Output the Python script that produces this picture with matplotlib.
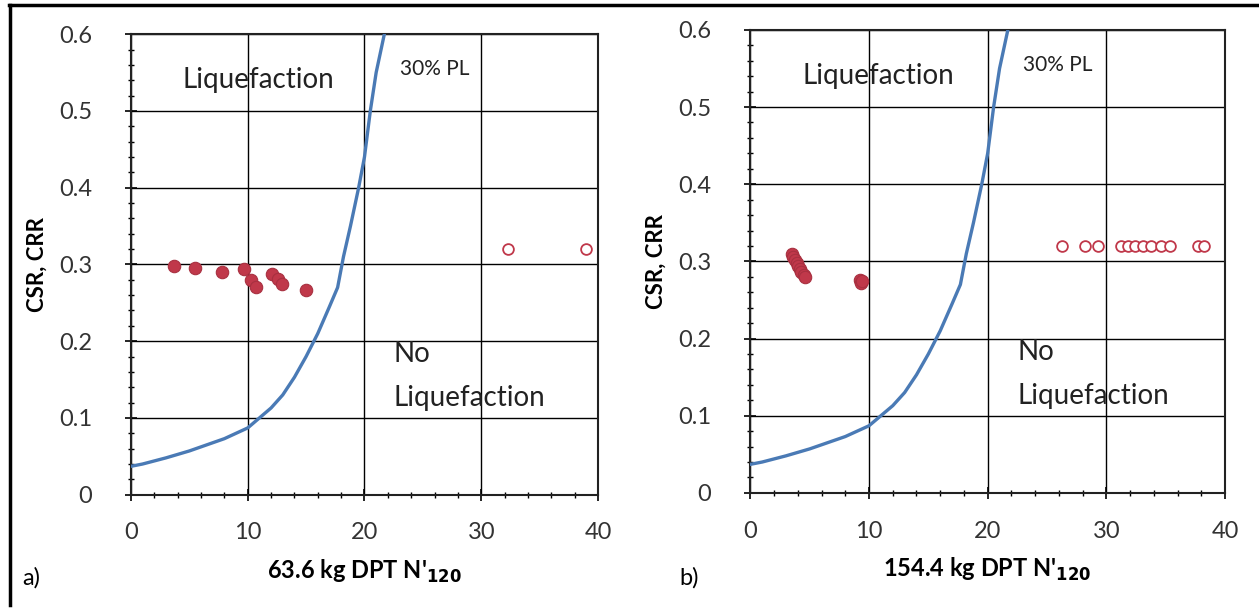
import matplotlib.pyplot as plt
from matplotlib.lines import Line2D
from matplotlib.ticker import MultipleLocator

plt.rcParams["font.family"] = ["Lato", "DejaVu Sans"]

# 30% probability of liquefaction boundary curve
curve_x = [0.0, 1.0, 3.0, 5.0, 8.0, 10.0, 11.0, 12.0, 13.0, 14.0, 15.0, 16.0, 17.0, 17.7,
           18.2, 18.8, 19.5, 20.0, 20.5, 21.0, 21.7]
curve_y = [0.037, 0.040, 0.048, 0.057, 0.073, 0.087, 0.100, 0.113, 0.130, 0.153, 0.180,
           0.210, 0.245, 0.270, 0.310, 0.350, 0.400, 0.440, 0.500, 0.550, 0.600]

# panel a) 63.6 kg DPT
a_liq_x = [3.7, 5.5, 7.8, 9.7, 10.3, 10.7, 12.1, 12.6, 12.9, 15.0]
a_liq_y = [0.298, 0.296, 0.290, 0.294, 0.280, 0.271, 0.287, 0.281, 0.274, 0.267]
a_noliq_x = [32.3, 39.0]
a_noliq_y = [0.320, 0.320]

# panel b) 154.4 kg DPT
b_liq_x = [3.5, 3.6, 3.8, 3.9, 4.0, 4.2, 4.3, 4.5, 4.6, 9.2, 9.3, 9.4]
b_liq_y = [0.310, 0.306, 0.302, 0.298, 0.294, 0.290, 0.286, 0.283, 0.280, 0.276, 0.272, 0.274]
b_noliq_x = [26.3, 28.2, 29.3, 31.2, 31.8, 32.4, 33.1, 33.8, 34.6, 35.4, 37.7, 38.2]
b_noliq_y = [0.320] * 12

RED = "#c0384a"
BLUE = "#4a7ab5"

fig = plt.figure(figsize=(12.59, 6.10), dpi=100)

panels = [
    ([0.104, 0.189, 0.371, 0.755], a_liq_x, a_liq_y, a_noliq_x, a_noliq_y,
     "63.6 kg DPT N'$_{\\mathbf{120}}$", "a)", 0.018),
    ([0.596, 0.192, 0.377, 0.759], b_liq_x, b_liq_y, b_noliq_x, b_noliq_y,
     "154.4 kg DPT N'$_{\\mathbf{120}}$", "b)", 0.540),
]

for rect, lx, ly, nx, ny, xlabel, tag, tag_x in panels:
    ax = fig.add_axes(rect)
    ax.plot(curve_x, curve_y, color=BLUE, lw=2.4, zorder=3)
    ax.scatter(lx, ly, s=80, color=RED, edgecolor="#a83040", lw=0.8, zorder=4)
    ax.scatter(nx, ny, s=60, facecolor="white", edgecolor=RED, lw=1.3, zorder=4)

    ax.set_xlim(0, 40)
    ax.set_ylim(0, 0.6)
    ax.xaxis.set_major_locator(MultipleLocator(10))
    ax.xaxis.set_minor_locator(MultipleLocator(2))
    ax.yaxis.set_minor_locator(MultipleLocator(0.02))
    ax.set_yticks([0, 0.1, 0.2, 0.3, 0.4, 0.5, 0.6])
    ax.set_yticklabels(["0", "0.1", "0.2", "0.3", "0.4", "0.5", "0.6"])
    ax.grid(True, which="major", color="black", lw=1.0)
    ax.tick_params(which="major", direction="inout", length=8, width=1.2,
                   labelsize=17, labelcolor="#333333")
    ax.tick_params(axis="y", which="major", pad=24)
    ax.tick_params(axis="x", which="major", pad=16)
    ax.tick_params(which="minor", direction="inout", length=5, width=1.0)
    for sp in ax.spines.values():
        sp.set_linewidth(1.5)
        sp.set_color("#222222")

    ax.set_ylabel("CSR, CRR", fontsize=16, fontweight="bold", labelpad=8)
    ax.set_xlabel(xlabel, fontsize=17, fontweight="bold", labelpad=10)

    ax.text(4.4, 0.54, "Liquefaction", fontsize=20, ha="left", va="center", color="#222222")
    ax.text(23.0, 0.554, "30% PL", fontsize=15, ha="left", va="center", color="#222222")
    ax.text(22.5, 0.183, "No", fontsize=20, ha="left", va="center", color="#222222")
    ax.text(22.5, 0.126, "Liquefaction", fontsize=20, ha="left", va="center", color="#222222")

    fig.text(tag_x, 0.052, tag, fontsize=17, ha="left", va="center")

# panel frame lines
fig.add_artist(Line2D([0.007, 1.0], [0.992, 0.992], color="black", lw=2.5,
                      transform=fig.transFigure))
fig.add_artist(Line2D([0.008, 0.008], [0.992, 0.008], color="black", lw=2.5,
                      transform=fig.transFigure))

fig.savefig("out.png", dpi=100)
